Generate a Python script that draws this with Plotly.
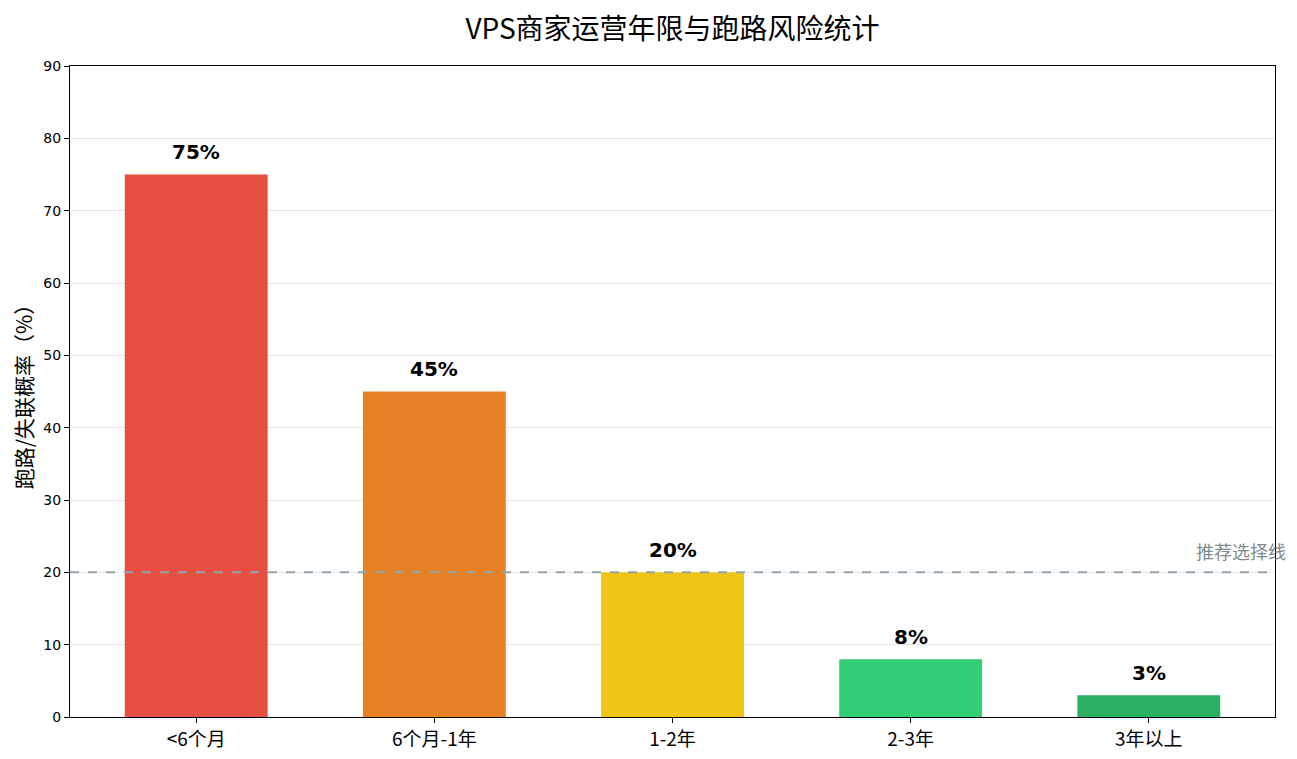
import plotly.graph_objects as go

categories = ["<6个月", "6个月-1年", "1-2年", "2-3年", "3年以上"]
risk_values = [75, 45, 20, 8, 3]
bar_colors = ["#e74c3c", "#e67e22", "#f1c40f", "#2ecc71", "#27ae60"]
y_ticks = [0, 10, 20, 30, 40, 50, 60, 70, 80, 90]
threshold = 20
threshold_label = "推荐选择线"

fig = go.Figure()
fig.add_trace(go.Bar(
    x=list(range(len(categories))), y=risk_values,
    marker=dict(color=bar_colors, opacity=0.98, line=dict(width=0)),
    width=0.6, showlegend=False, hoverinfo="skip",
))

for i, v in enumerate(risk_values):
    fig.add_annotation(x=i, y=v + 1.15, text=f"<b>{v}%</b>", showarrow=False,
                       yanchor="bottom", font=dict(family="DejaVu Sans", size=20, color="black"))

fig.add_shape(type="line", xref="paper", x0=0, x1=1, yref="y", y0=threshold, y1=threshold,
              line=dict(color="#95a5a6", width=2, dash="dash"), layer="above")
fig.add_annotation(xref="paper", x=1.0105, y=threshold + 0.9, yref="y", text=threshold_label,
                   showarrow=False, xanchor="right", yanchor="bottom",
                   font=dict(family="Noto Sans CJK SC", size=18, color="#7f8c8d"))

fig.update_layout(
    width=1297, height=759,
    paper_bgcolor="white", plot_bgcolor="white",
    margin=dict(l=62, r=30, t=58, b=50),
    title=dict(text="VPS商家运营年限与跑路风险统计", xref="paper", x=0.5, xanchor="center",
               y=0.972, yanchor="middle",
               font=dict(family="Noto Sans CJK SC", size=28, color="black")),
    xaxis=dict(range=[-0.53, 4.53], tickmode="array", tickvals=list(range(len(categories))),
               ticktext=categories, ticks="outside", ticklen=5, tickcolor="black",
               showline=True, linecolor="black", linewidth=1, mirror=True, showgrid=False,
               tickfont=dict(family="Noto Sans CJK SC", size=19, color="black"), zeroline=False),
    yaxis=dict(range=[0, 90], tickvals=y_ticks, ticks="outside", ticklen=5, tickcolor="black",
               showline=True, linecolor="black", linewidth=1, mirror=True, automargin=False,
               showgrid=True, gridcolor="#e6e6e6", gridwidth=1, zeroline=False,
               tickfont=dict(family="DejaVu Sans", size=14, color="black"),
               title=dict(text="跑路/失联概率（%）", standoff=12,
                          font=dict(family="Noto Sans CJK SC", size=21, color="black"))),
)

fig.write_html("out.html")
